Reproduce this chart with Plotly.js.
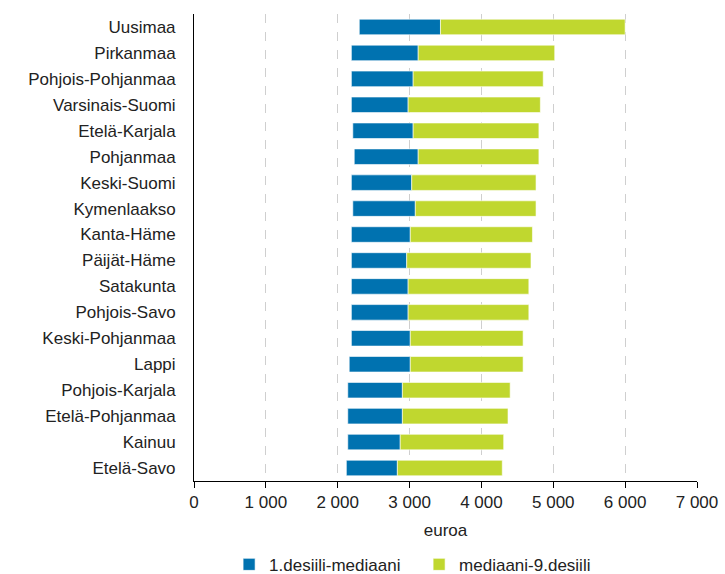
<!DOCTYPE html>
<html>
<head>
<meta charset="utf-8">
<script src="https://cdn.plot.ly/plotly-3.0.1.min.js"></script>
<style>html,body{margin:0;padding:0;background:#fff;}#chart{width:725px;height:574px;}</style>
</head>
<body>
<div id="chart"></div>
<script>
const regions = ["Uusimaa","Pirkanmaa","Pohjois-Pohjanmaa","Varsinais-Suomi","Etelä-Karjala","Pohjanmaa","Keski-Suomi","Kymenlaakso","Kanta-Häme","Päijät-Häme","Satakunta","Pohjois-Savo","Keski-Pohjanmaa","Lappi","Pohjois-Karjala","Etelä-Pohjanmaa","Kainuu","Etelä-Savo"];
const decile1 = [2300,2190,2190,2190,2210,2230,2190,2210,2190,2190,2190,2190,2190,2160,2140,2140,2140,2120];
const median  = [3430,3120,3050,2980,3050,3120,3030,3080,3010,2960,2980,2980,3010,3010,2900,2900,2870,2830];
const decile9 = [6000,5020,4860,4820,4800,4800,4760,4760,4710,4690,4660,4660,4580,4580,4400,4370,4310,4290];
const seriesNames = ["1.desiili-mediaani","mediaani-9.desiili"];
const xTicks = [0,1000,2000,3000,4000,5000,6000,7000];

const font = {family:"Liberation Sans, Arial, sans-serif", size:17, color:"#222"};

const traces = [
  {type:"bar", orientation:"h", name:seriesNames[0], y:regions,
   x:median.map((m,i)=>m-decile1[i]), base:decile1,
   marker:{color:"#0072b0", line:{color:"rgba(255,255,255,0.6)", width:1}}, hoverinfo:"skip"},
  {type:"bar", orientation:"h", name:seriesNames[1], y:regions,
   x:decile9.map((v,i)=>v-median[i]), base:median,
   marker:{color:"#c0d72f", line:{color:"rgba(255,255,255,0.6)", width:1}}, hoverinfo:"skip"}
];

const layout = {
  width:725, height:574,
  margin:{l:194, r:28, t:14, b:93, autoexpand:false},
  paper_bgcolor:"#fff", plot_bgcolor:"#fff",
  font:font,
  separators:", ",
  barmode:"overlay",
  bargap:0.4,
  showlegend:true,
  legend:{orientation:"h", xref:"container", yref:"container", x:0.316, xanchor:"left", y:0.016, yanchor:"middle",
          font:font, traceorder:"normal", itemwidth:30, entrywidth:145},
  xaxis:{range:[0,7000], tickvals:xTicks, tickformat:",d", showgrid:true, gridcolor:"#cfcfcf", griddash:"dash", gridwidth:1,
         showline:true, linecolor:"#000", linewidth:1, ticks:"outside", ticklen:6, tickcolor:"#000",
         zeroline:false, tickfont:font, automargin:false, title:{text:"euroa", font:font, standoff:12}, fixedrange:true},
  yaxis:{autorange:"reversed", showline:true, linecolor:"#000", linewidth:1, ticks:"", showgrid:false, automargin:false,
         tickfont:font, ticklabelstandoff:14, fixedrange:true}
};

Plotly.newPlot("chart", traces, layout, {staticPlot:true, displayModeBar:false});
</script>
</body>
</html>
